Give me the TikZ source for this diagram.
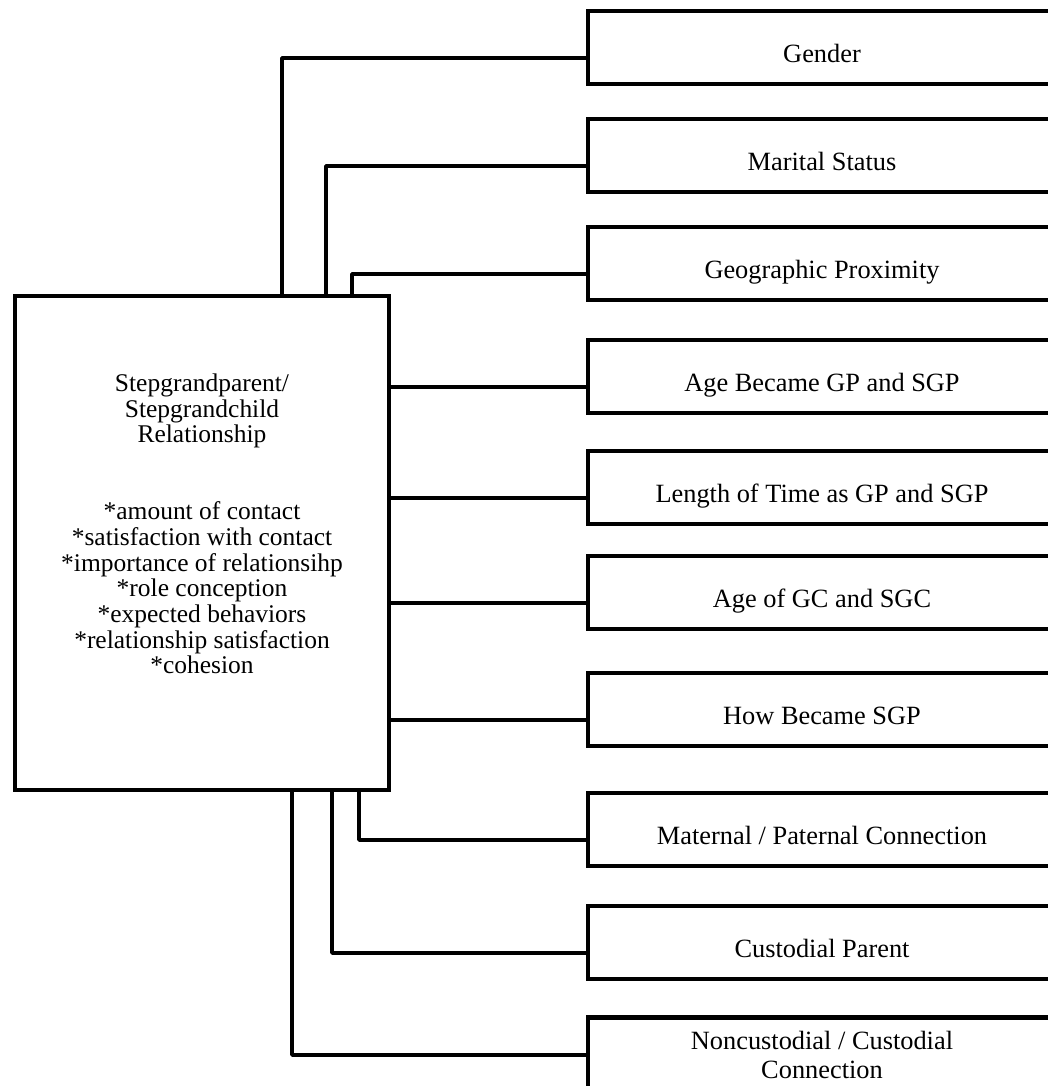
\documentclass[tikz,border=0pt]{standalone}
\usepackage{fontspec}
\setmainfont{Liberation Serif}
\usetikzlibrary{calc}

\tikzset{
  factor/.style={draw, line width=2.6pt, outer sep=0pt, inner ysep=0pt, anchor=mid west,
    minimum width=93.6mm, text height=10.2mm, text depth=4.4mm,
    font=\fontsize{15}{17}\selectfont},
  mainbox/.style={draw, line width=2.3pt, outer sep=0pt, minimum width=74.8mm, minimum height=98.8mm},
  maintext/.style={align=center, font=\fontsize{14.5}{14.6}\selectfont},
  link/.style={line width=2pt, line join=round},
}

\begin{document}
\begin{tikzpicture}[x=0.2mm,y=-0.2mm]
\useasboundingbox (0,0) rectangle (1048,1086);
\clip (0,0) rectangle (1048,1086);

\node[mainbox] (sg) at (202,543) {};
\node[maintext] (title) at (202,411) {Stepgrandparent/\\Stepgrandchild\\Relationship};
\node[maintext] (list) at (202,588) {*amount of contact\\*satisfaction with contact\\*importance of relationsihp\\*role conception\\*expected behaviors\\*relationship satisfaction\\*cohesion};

\node[factor] (gen) at (588,58) {Gender};
\node[factor] (ms) at (588,166) {Marital Status};
\node[factor] (geo) at (588,274) {Geographic Proximity};
\node[factor] (age) at (588,387) {Age Became GP and SGP};
\node[factor] (len) at (588,498) {Length of Time as GP and SGP};
\node[factor] (agc) at (588,603) {Age of GC and SGC};
\node[factor] (how) at (588,720) {How Became SGP};
\node[factor] (mat) at (588,840) {Maternal / Paternal Connection};
\node[factor] (cus) at (588,953) {Custodial Parent};
\node[draw, line width=2.6pt, outer sep=0pt, anchor=west, minimum width=93.6mm, minimum height=15mm,
  align=center, font=\fontsize{15}{17}\selectfont] (ncc) at (588,1055) {Noncustodial / Custodial\\Connection};

\draw[link] (gen.mid west) -| ($(sg.north west)+(267,0)$);
\draw[link] (ms.mid west) -| ($(sg.north west)+(311,0)$);
\draw[link] (geo.mid west) -| ($(sg.north west)+(337,0)$);
\draw[link] (sg.east |- age.mid west) -- (age.mid west);
\draw[link] (sg.east |- len.mid west) -- (len.mid west);
\draw[link] (sg.east |- agc.mid west) -- (agc.mid west);
\draw[link] (sg.east |- how.mid west) -- (how.mid west);
\draw[link] (mat.mid west) -| ($(sg.south west)+(344,0)$);
\draw[link] (cus.mid west) -| ($(sg.south west)+(317,0)$);
\draw[link] (ncc.west) -| ($(sg.south west)+(277,0)$);
\end{tikzpicture}
\end{document}
